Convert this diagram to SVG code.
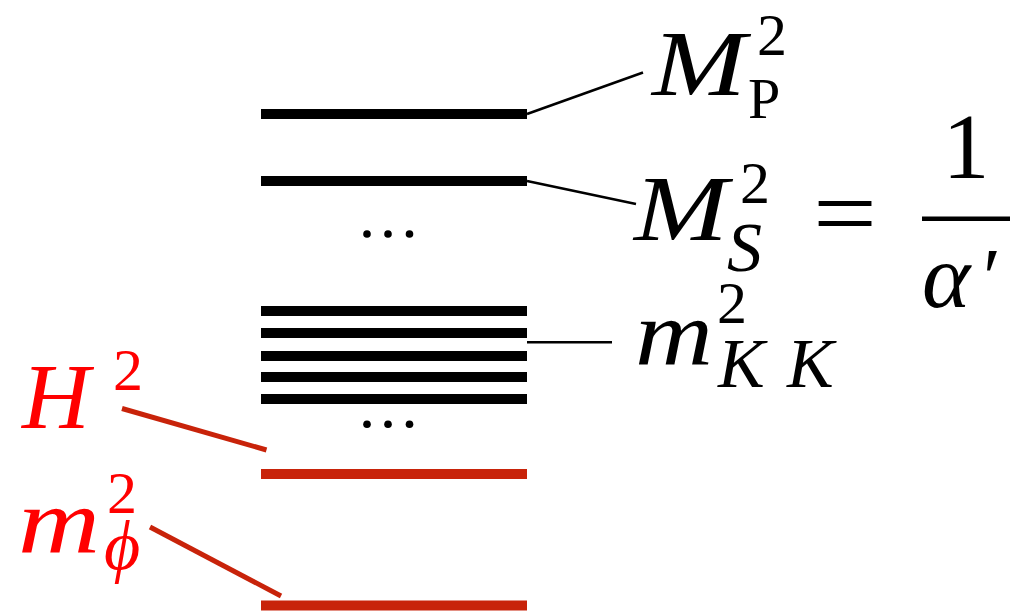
<svg xmlns="http://www.w3.org/2000/svg" width="1015" height="612" viewBox="0 0 1015 612">
<style>
.bar{fill:#000}
.rbar{fill:#c8230a}
.conn{stroke:#000;stroke-width:2.5;fill:none}
.rconn{stroke:#c8230a;stroke-width:5;fill:none}
text{font-family:'Liberation Serif','Times New Roman',serif}
.mi{font-style:italic}
.red{fill:#ff0000}
.dot{fill:#000}
</style>
<rect width="1015" height="612" fill="#fff"/>
<g id="levels">
<g id="level-MP"><rect class="bar" x="261" y="109" width="266" height="10"/></g>
<g id="level-MS"><rect class="bar" x="261" y="176" width="266" height="10"/></g>
<g id="dots-upper"><circle class="dot" cx="367" cy="234" r="3.8"/><circle class="dot" cx="388" cy="234" r="3.8"/><circle class="dot" cx="409.5" cy="234" r="3.8"/></g>
<g id="level-KK">
<rect class="bar" x="261" y="306" width="266" height="10"/>
<rect class="bar" x="261" y="328" width="266" height="10"/>
<rect class="bar" x="261" y="351" width="266" height="10"/>
<rect class="bar" x="261" y="372" width="266" height="10"/>
<rect class="bar" x="261" y="394" width="266" height="10"/>
</g>
<g id="dots-lower"><circle class="dot" cx="367" cy="424.3" r="3.8"/><circle class="dot" cx="388" cy="424.3" r="3.8"/><circle class="dot" cx="409.5" cy="424.3" r="3.8"/></g>
<g id="level-H"><rect class="rbar" x="261" y="469" width="266" height="10"/></g>
<g id="level-phi"><rect class="rbar" x="261" y="600.5" width="266" height="10"/></g>
</g>
<g id="connectors">
<line class="conn" x1="527" y1="114" x2="643" y2="72.5"/>
<line class="conn" x1="527" y1="181" x2="636" y2="204"/>
<line class="conn" x1="527" y1="342.3" x2="612" y2="342.3"/>
<line class="rconn" x1="122" y1="408.5" x2="266.5" y2="450"/>
<line class="rconn" x1="150" y1="527" x2="281" y2="596"/>
</g>
<g id="label-MP">
<text class="mi" x="652" y="95" font-size="94" textLength="94" lengthAdjust="spacingAndGlyphs">M</text>
<text x="757" y="55" font-size="60">2</text>
<text x="748" y="118" font-size="58">P</text>
</g>
<g id="label-MS">
<text class="mi" x="634" y="240" font-size="94" textLength="94" lengthAdjust="spacingAndGlyphs">M</text>
<text x="740" y="203" font-size="60">2</text>
<text class="mi" x="727" y="271" font-size="70">S</text>
<text x="813" y="247" font-size="100" textLength="64" lengthAdjust="spacingAndGlyphs">=</text>
<text x="966" y="178" font-size="94" text-anchor="middle">1</text>
<rect class="bar" x="922" y="216.5" width="88" height="4.5"/>
<text class="mi" x="922" y="307" font-size="92">α</text>
<text x="983" y="305" font-size="82">′</text>
</g>
<g id="label-KK">
<text class="mi" x="635" y="365" font-size="94" textLength="78" lengthAdjust="spacingAndGlyphs">m</text>
<text x="717" y="323" font-size="60">2</text>
<text class="mi" x="718" y="387" font-size="70">K</text>
<text class="mi" x="787" y="387" font-size="70">K</text>
</g>
<g id="label-H">
<text class="mi red" x="22" y="428" font-size="94">H</text>
<text class="red" x="113" y="390" font-size="60">2</text>
</g>
<g id="label-phi">
<text class="mi red" x="18" y="553" font-size="94" textLength="82" lengthAdjust="spacingAndGlyphs">m</text>
<text class="red" x="107" y="513" font-size="60">2</text>
<text class="mi red" x="104" y="569" font-size="70">ϕ</text>
</g>
</svg>
